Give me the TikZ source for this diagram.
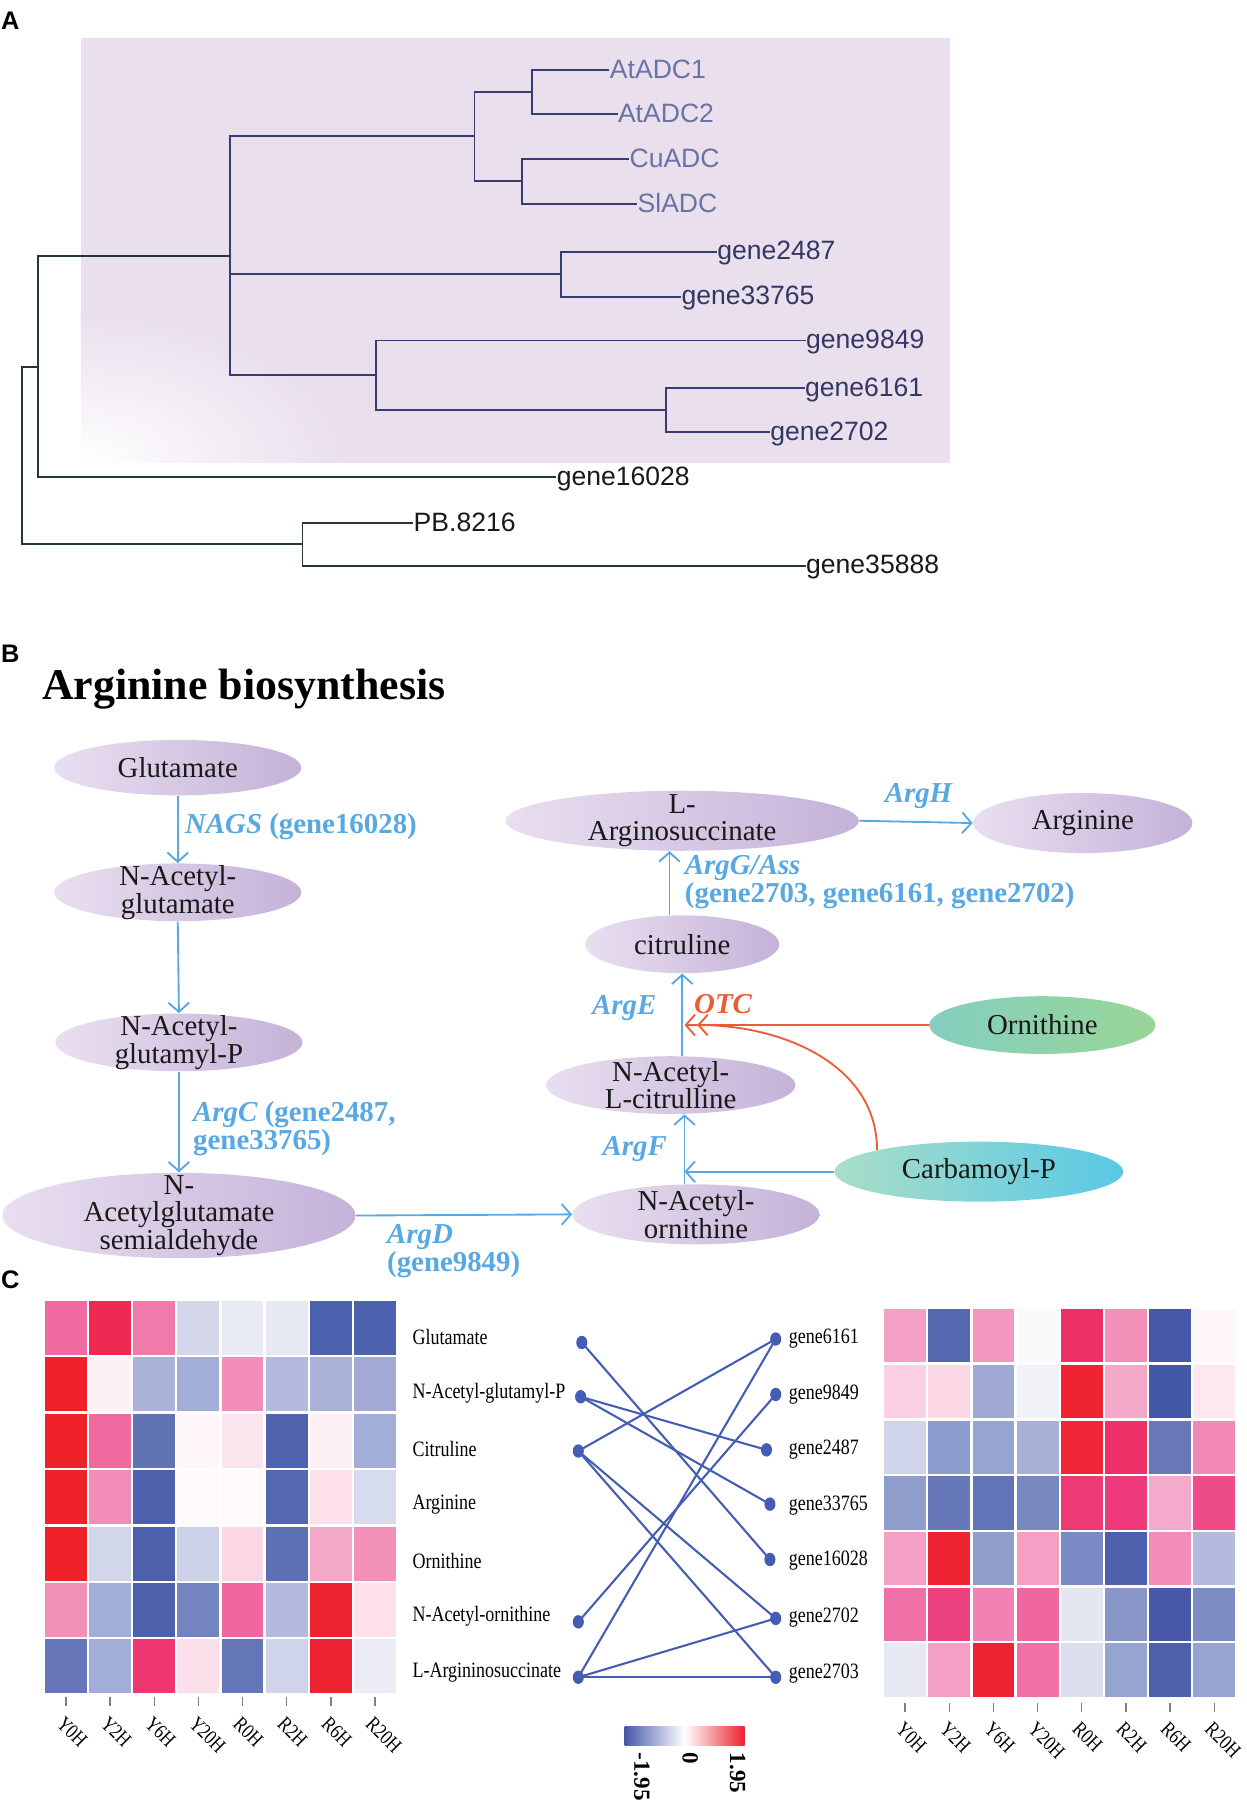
\documentclass[tikz,border=0pt]{standalone}
\usepackage{fontspec}
\setmainfont{Liberation Serif}
\newfontfamily\arialf{Liberation Sans}
\newfontfamily\condf[FakeStretch=0.82]{Liberation Serif}
\usetikzlibrary{arrows.meta,shapes.geometric}
\definecolor{lblue}{RGB}{88,168,228}
\definecolor{otcred}{RGB}{238,92,52}
\definecolor{purL}{RGB}{233,223,240}
\definecolor{purR}{RGB}{196,178,216}
\definecolor{ornL}{RGB}{132,206,192}
\definecolor{ornR}{RGB}{152,214,150}
\definecolor{carL}{RGB}{170,222,200}
\definecolor{carR}{RGB}{88,200,230}
\definecolor{lav}{RGB}{233,223,237}
\definecolor{treeNavy}{RGB}{55,60,115}
\definecolor{treeDark}{RGB}{35,55,55}
\definecolor{labA}{RGB}{105,115,165}
\definecolor{labG}{RGB}{50,55,100}
\definecolor{dotc}{RGB}{68,92,180}
\definecolor{cbBlue}{RGB}{70,88,170}
\definecolor{cbBlueM}{RGB}{156,166,210}
\definecolor{cbPink}{RGB}{238,80,136}
\definecolor{cbRed}{RGB}{238,34,48}
\tikzset{
  panel/.style={font=\arialf\bfseries\fontsize{11}{11}\selectfont, inner sep=0pt},
  treeN/.style={draw=treeNavy, line width=0.8pt},
  treeK/.style={draw=treeDark, line width=0.8pt},
  leaf/.style={anchor=west, inner sep=0pt, text height=0.72em, text depth=0pt, font=\arialf\fontsize{11.5}{11.5}\selectfont},
  met/.style={ellipse, inner xsep=0pt, inner ysep=-8pt, align=center,
    font=\fontsize{12.5}{12}\selectfont, text=black!90, left color=purL, right color=purR},
  enz/.style={inner sep=0pt, align=left, text=lblue, font=\fontsize{12.5}{12}\selectfont\bfseries},
  arr/.style={draw=lblue, line width=0.8pt, -{Straight Barb[length=4pt,width=9pt]}},
  oarr/.style={draw=otcred, line width=0.8pt, -{Straight Barb[length=4pt,width=9pt]}},
  hlab/.style={anchor=west, inner sep=0pt, font=\condf\fontsize{9.5}{9.5}\selectfont},
  collab/.style={anchor=west, rotate=-45, inner sep=0pt, font=\condf\fontsize{9}{9}\selectfont},
  dot/.style={ellipse, fill=dotc, inner sep=0pt, minimum width=4.8pt, minimum height=5.8pt},
  net/.style={draw=dotc, line width=0.9pt},
  cblab/.style={anchor=west, rotate=-90, inner sep=0pt, font=\fontsize{10}{10}\selectfont\bfseries}
}
\begin{document}
\begin{tikzpicture}[x=0.5pt,y=-0.5pt]
\useasboundingbox (0,0) rectangle (1080,1568);
\fill[white] (0,0) rectangle (1080,1568);

% ================= Panel A =================
\node[panel] (pA) at (9,18) {A};
\begin{scope}
  \clip (70,33) rectangle (823,401);
  \fill[lav] (70,33) rectangle (823,401);
  \shade[inner color=white, outer color=lav] (70,401) ellipse [x radius=230, y radius=130];
\end{scope}

\node[leaf, text=labA] (atadc1) at (528,61) {AtADC1};
\node[leaf, text=labA] (atadc2) at (535,99) {AtADC2};
\node[leaf, text=labA] (cuadc) at (545,138) {CuADC};
\node[leaf, text=labA] (sladc) at (552,177) {SlADC};
\node[leaf, text=labG] (t2487) at (621,218) {gene2487};
\node[leaf, text=labG] (t33765) at (590,257) {gene33765};
\node[leaf, text=labG] (t9849) at (698,295) {gene9849};
\node[leaf, text=labG] (t6161) at (697,336) {gene6161};
\node[leaf, text=labG] (t2702) at (667,374) {gene2702};
\node[leaf, text=black!90] (t16028) at (482,413) {gene16028};
\node[leaf, text=black!90] (tpb) at (358,453) {PB.8216};
\node[leaf, text=black!90] (t35888) at (698,490) {gene35888};

\coordinate (n1) at (461,80);
\coordinate (n2) at (452,157);
\coordinate (n3) at (411,118);
\coordinate (n4) at (486,237);
\coordinate (n5) at (577,355);
\coordinate (n6) at (326,325);
\coordinate (n7) at (199,222);
\coordinate (n8) at (33,318);
\coordinate (n9) at (262,471);
\coordinate (nr) at (19,394);

\draw[treeN] (atadc1.west) -| (n1) |- (atadc2.west);
\draw[treeN] (cuadc.west) -| (n2) |- (sladc.west);
\draw[treeN] (n1) -| (n3) |- (n2);
\draw[treeN] (t2487.west) -| (n4) |- (t33765.west);
\draw[treeN] (t6161.west) -| (n5) |- (t2702.west);
\draw[treeN] (t9849.west) -| (n6) |- (n5);
\draw[treeN] (n3) -| (n7) |- (n6);
\draw[treeN] (n4) -- (n4 -| n7);
\draw[treeK] (n7) -| (n8) |- (t16028.west);
\draw[treeK] (tpb.west) -| (n9) |- (t35888.west);
\draw[treeK] (n8) -| (nr) |- (n9);

% ================= Panel B =================
\node[panel] (pB) at (9,566) {B};
\node[anchor=west, inner sep=0pt, font=\fontsize{19}{19}\selectfont\bfseries] (title) at (36,597) {Arginine biosynthesis};

\node[met, minimum width=107pt, minimum height=24pt] (glu) at (154,665) {Glutamate};
\node[met, minimum width=107pt, minimum height=25pt] (nag) at (154,773) {N-Acetyl-\\glutamate};
\node[met, minimum width=107pt, minimum height=25pt] (nagp) at (155,903) {N-Acetyl-\\glutamyl-P};
\node[met, minimum width=153pt, minimum height=37pt] (nags) at (155,1053) {N-\\Acetylglutamate\\semialdehyde};
\node[met, minimum width=153pt, minimum height=26pt] (las) at (591,711) {L-\\Arginosuccinate};
\node[met, minimum width=95pt, minimum height=26pt] (arg) at (938,713) {Arginine};
\node[met, minimum width=84pt, minimum height=25pt] (cit) at (591,818) {citruline};
\node[met, minimum width=108pt, minimum height=25pt] (nacit) at (581,940) {N-Acetyl-\\L-citrulline};
\node[met, minimum width=107pt, minimum height=26pt] (naorn) at (603,1052) {N-Acetyl-\\ornithine};
\node[met, minimum width=98pt, minimum height=25pt, left color=ornL, right color=ornR] (orn) at (903,888) {Ornithine};
\node[met, minimum width=125pt, minimum height=26pt, left color=carL, right color=carR] (carb) at (848,1015) {Carbamoyl-P};

\coordinate (cj) at (593,1015);
\coordinate (o1) at (593,888);
\coordinate (o2) at (604,888);

\draw[arr] (glu.south) -- (nag.north);
\draw[arr] (nag.south) -- (nagp.north);
\draw[arr] (nagp.south) -- (nags.north);
\draw[arr] (nags.east) -- (naorn.west);
\draw[arr] ([xshift=-5pt]naorn.north) -- ([xshift=6pt]nacit.south);
\draw[arr] (carb.west) -- (cj);
\draw[arr] ([xshift=5pt]nacit.north) -- (cit.south);
\draw[arr] ([xshift=-5.5pt]cit.north) -- ([xshift=-5.5pt]las.south);
\draw[arr] (las.east) -- (arg.west);
\draw[oarr] (orn.west) -- (o1);
\draw[oarr] (carb.168) to[out=90,in=0] (o2);

\node[enz, anchor=west] (lNAGS) at (160,716) {\textit{NAGS} (gene16028)};
\node[enz, anchor=west] (lArgC) at (167,978) {\textit{ArgC} (gene2487,\\gene33765)};
\node[enz, anchor=west] (lArgD) at (335,1084) {\textit{ArgD}\\(gene9849)};
\node[enz, anchor=east] (lArgF) at (578,995) {\textit{ArgF}};
\node[enz, anchor=east] (lArgE) at (569,873) {\textit{ArgE}};
\node[enz, anchor=west, text=otcred] (lOTC) at (601,870) {\textit{OTC}};
\node[enz, anchor=west] (lArgG) at (593,764) {\textit{ArgG/Ass}\\(gene2703, gene6161, gene2702)};
\node[enz] (lArgH) at (796,690) {\textit{ArgH}};

% ================= Panel C =================
\node[panel] (pC) at (9,1109) {C};

% left heatmap
\foreach \row [count=\r from 0] in {
 {F06AA0,EE2850,F07AAA,D4D6EA,E8EAF4,E6E8F4,4C62AE,4C62AE},
 {EE2228,FCF2F4,AAB2D8,A2AED8,F28CB8,B4BADE,AAB2D8,A2AAD4},
 {EE2228,F06AA0,5E72B4,FEF6F8,FCE4EE,4E62AE,FDF0F4,A2AED8},
 {EE2228,F28CB8,4C60AC,FFFAFA,FFFAFA,5468B0,FDE0EA,D6DCEE},
 {EE2228,D2D6EA,4C60AC,CDD2EA,FBD6E4,5E70B4,F4A8C8,F290B8},
 {F290B8,A2AED8,4C60AC,7484C0,F066A0,B4BADE,EE2230,FDE0EA},
 {6676B8,A2AED8,EE3670,FBE0EC,6476B8,D0D4EA,EE2230,ECECF6}} {
  \foreach \c [count=\k from 0] in \row {
    \definecolor{hc}{HTML}{\c}
    \filldraw[fill=hc, draw=white, line width=1pt] ({38+\k*38.25},{1126+\r*48.86}) rectangle ++(38.25,48.86);
  }
}
\foreach \t [count=\k from 0] in {Y0H,Y2H,Y6H,Y20H,R0H,R2H,R6H,R20H} {
  \draw[gray, line width=0.6pt] ({57.1+\k*38.25},1470) -- ++(0,8);
  \node[collab] at ({52+\k*38.25},1490) {\t};
}

% right heatmap
\foreach \row [count=\r from 0] in {
 {F4A0C4,5468B0,F298C0,FAFAFC,EE3068,F290B8,4858A8,FFF6F8},
 {FAD0E2,FCD8E6,A0A8D4,F0F2F8,EE2230,F4A8C8,4458A8,FDE8F0},
 {D0D4EA,8C9CCC,98A4D0,A8B0D8,EE2638,EE3068,6878B8,F288B4},
 {909ECE,6678B8,6274B8,7888C0,EE3A74,EE3A7A,F4AACC,EE4C88},
 {F4A0C4,EE2230,909ECC,F4A0C4,7A8AC4,4C60AC,F28CB8,B4BADE},
 {F070A8,EE4280,F282B4,F066A0,E4E6F2,8A96C8,4858A8,7E8CC4},
 {E6E8F4,F4A0C4,EE2230,F070A8,DCDEEE,98A4D0,4C60AC,98A4D0}} {
  \foreach \c [count=\k from 0] in \row {
    \definecolor{hc}{HTML}{\c}
    \filldraw[fill=hc, draw=white, line width=1pt] ({765+\k*38.25},{1133+\r*48.29}) rectangle ++(38.25,48.29);
  }
}
\foreach \t [count=\k from 0] in {Y0H,Y2H,Y6H,Y20H,R0H,R2H,R6H,R20H} {
  \draw[gray, line width=0.6pt] ({784.1+\k*38.25},1475) -- ++(0,8);
  \node[collab] at ({779+\k*38.25},1495) {\t};
}

% metabolite labels
\node[hlab] (hGlu) at (357,1158) {Glutamate};
\node[hlab] (hNAGP) at (357,1207) {N-Acetyl-glutamyl-P};
\node[hlab] (hCit) at (357,1255) {Citruline};
\node[hlab] (hArg) at (357,1303) {Arginine};
\node[hlab] (hOrn) at (357,1352) {Ornithine};
\node[hlab] (hNAO) at (357,1400) {N-Acetyl-ornithine};
\node[hlab] (hLAS) at (357,1449) {L-Argininosuccinate};

% gene labels
\node[hlab] (hg6161) at (683,1160) {gene6161};
\node[hlab] (hg9849) at (683,1208) {gene9849};
\node[hlab] (hg2487) at (683,1256) {gene2487};
\node[hlab] (hg33765) at (683,1304) {gene33765};
\node[hlab] (hg16028) at (683,1352) {gene16028};
\node[hlab] (hg2702) at (683,1401) {gene2702};
\node[hlab] (hg2703) at (683,1450) {gene2703};

% network
\coordinate (mGluC) at (504,1163);
\coordinate (mNAGPC) at (503,1210);
\coordinate (mCitC) at (501,1257);
\coordinate (mNAOC) at (501,1405);
\coordinate (mLASC) at (501,1453);
\coordinate (g6161C) at (672,1160);
\coordinate (g9849C) at (672,1208);
\coordinate (g2487C) at (664,1256);
\coordinate (g33765C) at (667,1303);
\coordinate (g16028C) at (667,1351);
\coordinate (g2702C) at (672,1402);
\coordinate (g2703C) at (672,1453);
\draw[net] (mGluC) -- (g16028C);
\draw[net] (mNAGPC) -- (g2487C);
\draw[net] (mNAGPC) -- (g33765C);
\draw[net] (mCitC) -- (g6161C);
\draw[net] (mCitC) -- (g2702C);
\draw[net] (mCitC) -- (g2703C);
\draw[net] (mNAOC) -- (g9849C);
\draw[net] (mLASC) -- (g6161C);
\draw[net] (mLASC) -- (g2702C);
\draw[net] (mLASC) -- (g2703C);
\foreach \p in {mGluC,mNAGPC,mCitC,mNAOC,mLASC,g6161C,g9849C,g2487C,g33765C,g16028C,g2702C,g2703C}
  \node[dot] (d-\p) at (\p) {};

% colour bar
\shade[left color=cbBlue, middle color=cbBlueM, right color=white] (541,1496) rectangle (593,1512);
\shade[left color=white, middle color=cbPink, right color=cbRed] (593,1496) rectangle (645,1512);
\node[cblab] (cbm) at (556,1518) {-1.95};
\node[cblab] (cb0) at (598,1518) {0};
\node[cblab] (cbp) at (639,1518) {1.95};
\end{tikzpicture}
\end{document}
